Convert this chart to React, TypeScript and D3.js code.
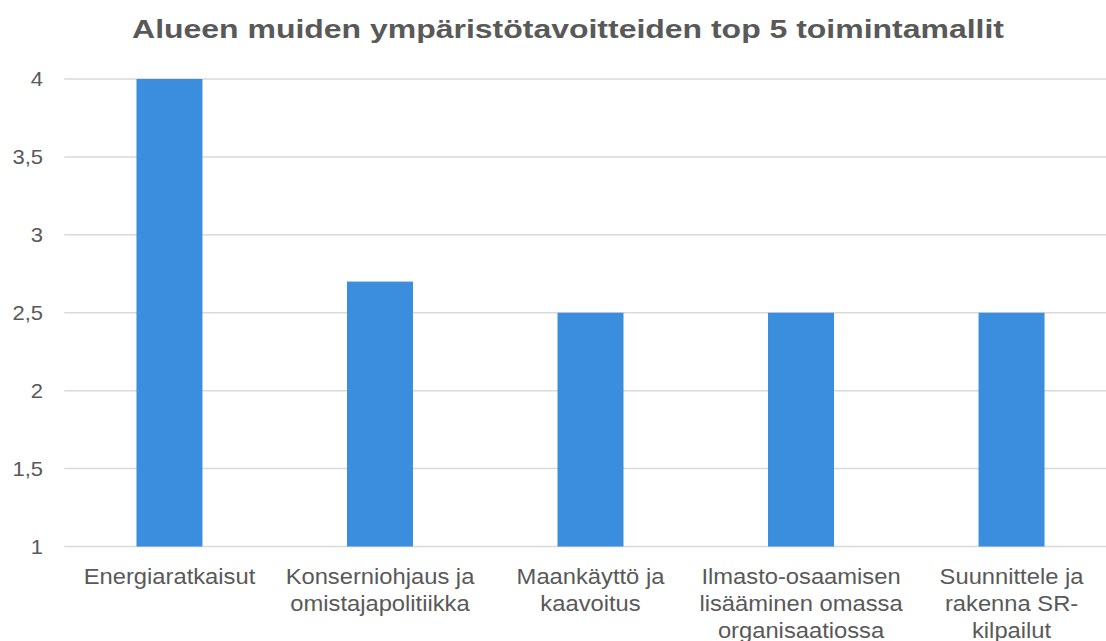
import React from "react";
import * as d3 from "d3";

const categories: string[][] = [
  ["Energiaratkaisut"],
  ["Konserniohjaus ja", "omistajapolitiikka"],
  ["Maankäyttö ja", "kaavoitus"],
  ["Ilmasto-osaamisen", "lisääminen omassa", "organisaatiossa"],
  ["Suunnittele ja", "rakenna SR-", "kilpailut"],
];
const values: number[] = [4, 2.7, 2.5, 2.5, 2.5];
const yTicks: number[] = [1, 1.5, 2, 2.5, 3, 3.5, 4];
const title = "Alueen muiden ympäristötavoitteiden top 5 toimintamallit";

export default function App() {
  const W = 1106;
  const H = 641;
  const left = 64.25;
  const right = 1116.75;
  const top = 79;
  const bottom = 546.5;
  const font = "'Liberation Sans', Arial, sans-serif";
  const x = d3
    .scaleBand<number>()
    .domain(d3.range(categories.length))
    .range([left, right])
    .paddingInner(0.6865)
    .paddingOuter(0.343);
  const y = d3.scaleLinear().domain([1, 4]).range([bottom, top]);
  const fmt = (v: number) => String(v).replace(".", ",");
  return (
    <svg
      width={W}
      height={H}
      style={{ position: "absolute", left: 0, top: 0, background: "#fff" }}
    >
      <text
        transform={`translate(568,38) scale(1.23,1)`}
        textAnchor="middle"
        fontFamily={font}
        fontWeight="bold"
        fontSize={26}
        fill="#595959"
      >
        {title}
      </text>
      {yTicks.map((t) => (
        <g key={t}>
          <line
            x1={left}
            x2={right}
            y1={y(t)}
            y2={y(t)}
            stroke="#d9d9d9"
            strokeWidth={1.5}
          />
          <text
            transform={`translate(43,${y(t)}) scale(1.1,1)`}
            dy="0.35em"
            textAnchor="end"
            fontFamily={font}
            fontSize={20}
            fill="#595959"
          >
            {fmt(t)}
          </text>
        </g>
      ))}
      {values.map((v, i) => (
        <rect
          key={i}
          x={x(i)}
          y={y(v)}
          width={x.bandwidth()}
          height={y(1) - y(v)}
          fill="#3b8ede"
        />
      ))}
      {categories.map((lines, i) => (
        <g key={i}>
          {lines.map((l, j) => (
            <text
              key={j}
              transform={`translate(${(x(i) as number) + x.bandwidth() / 2},${584 + j * 27}) scale(1.08,1)`}
              textAnchor="middle"
              fontFamily={font}
              fontSize={22}
              fill="#595959"
            >
              {l}
            </text>
          ))}
        </g>
      ))}
    </svg>
  );
}
